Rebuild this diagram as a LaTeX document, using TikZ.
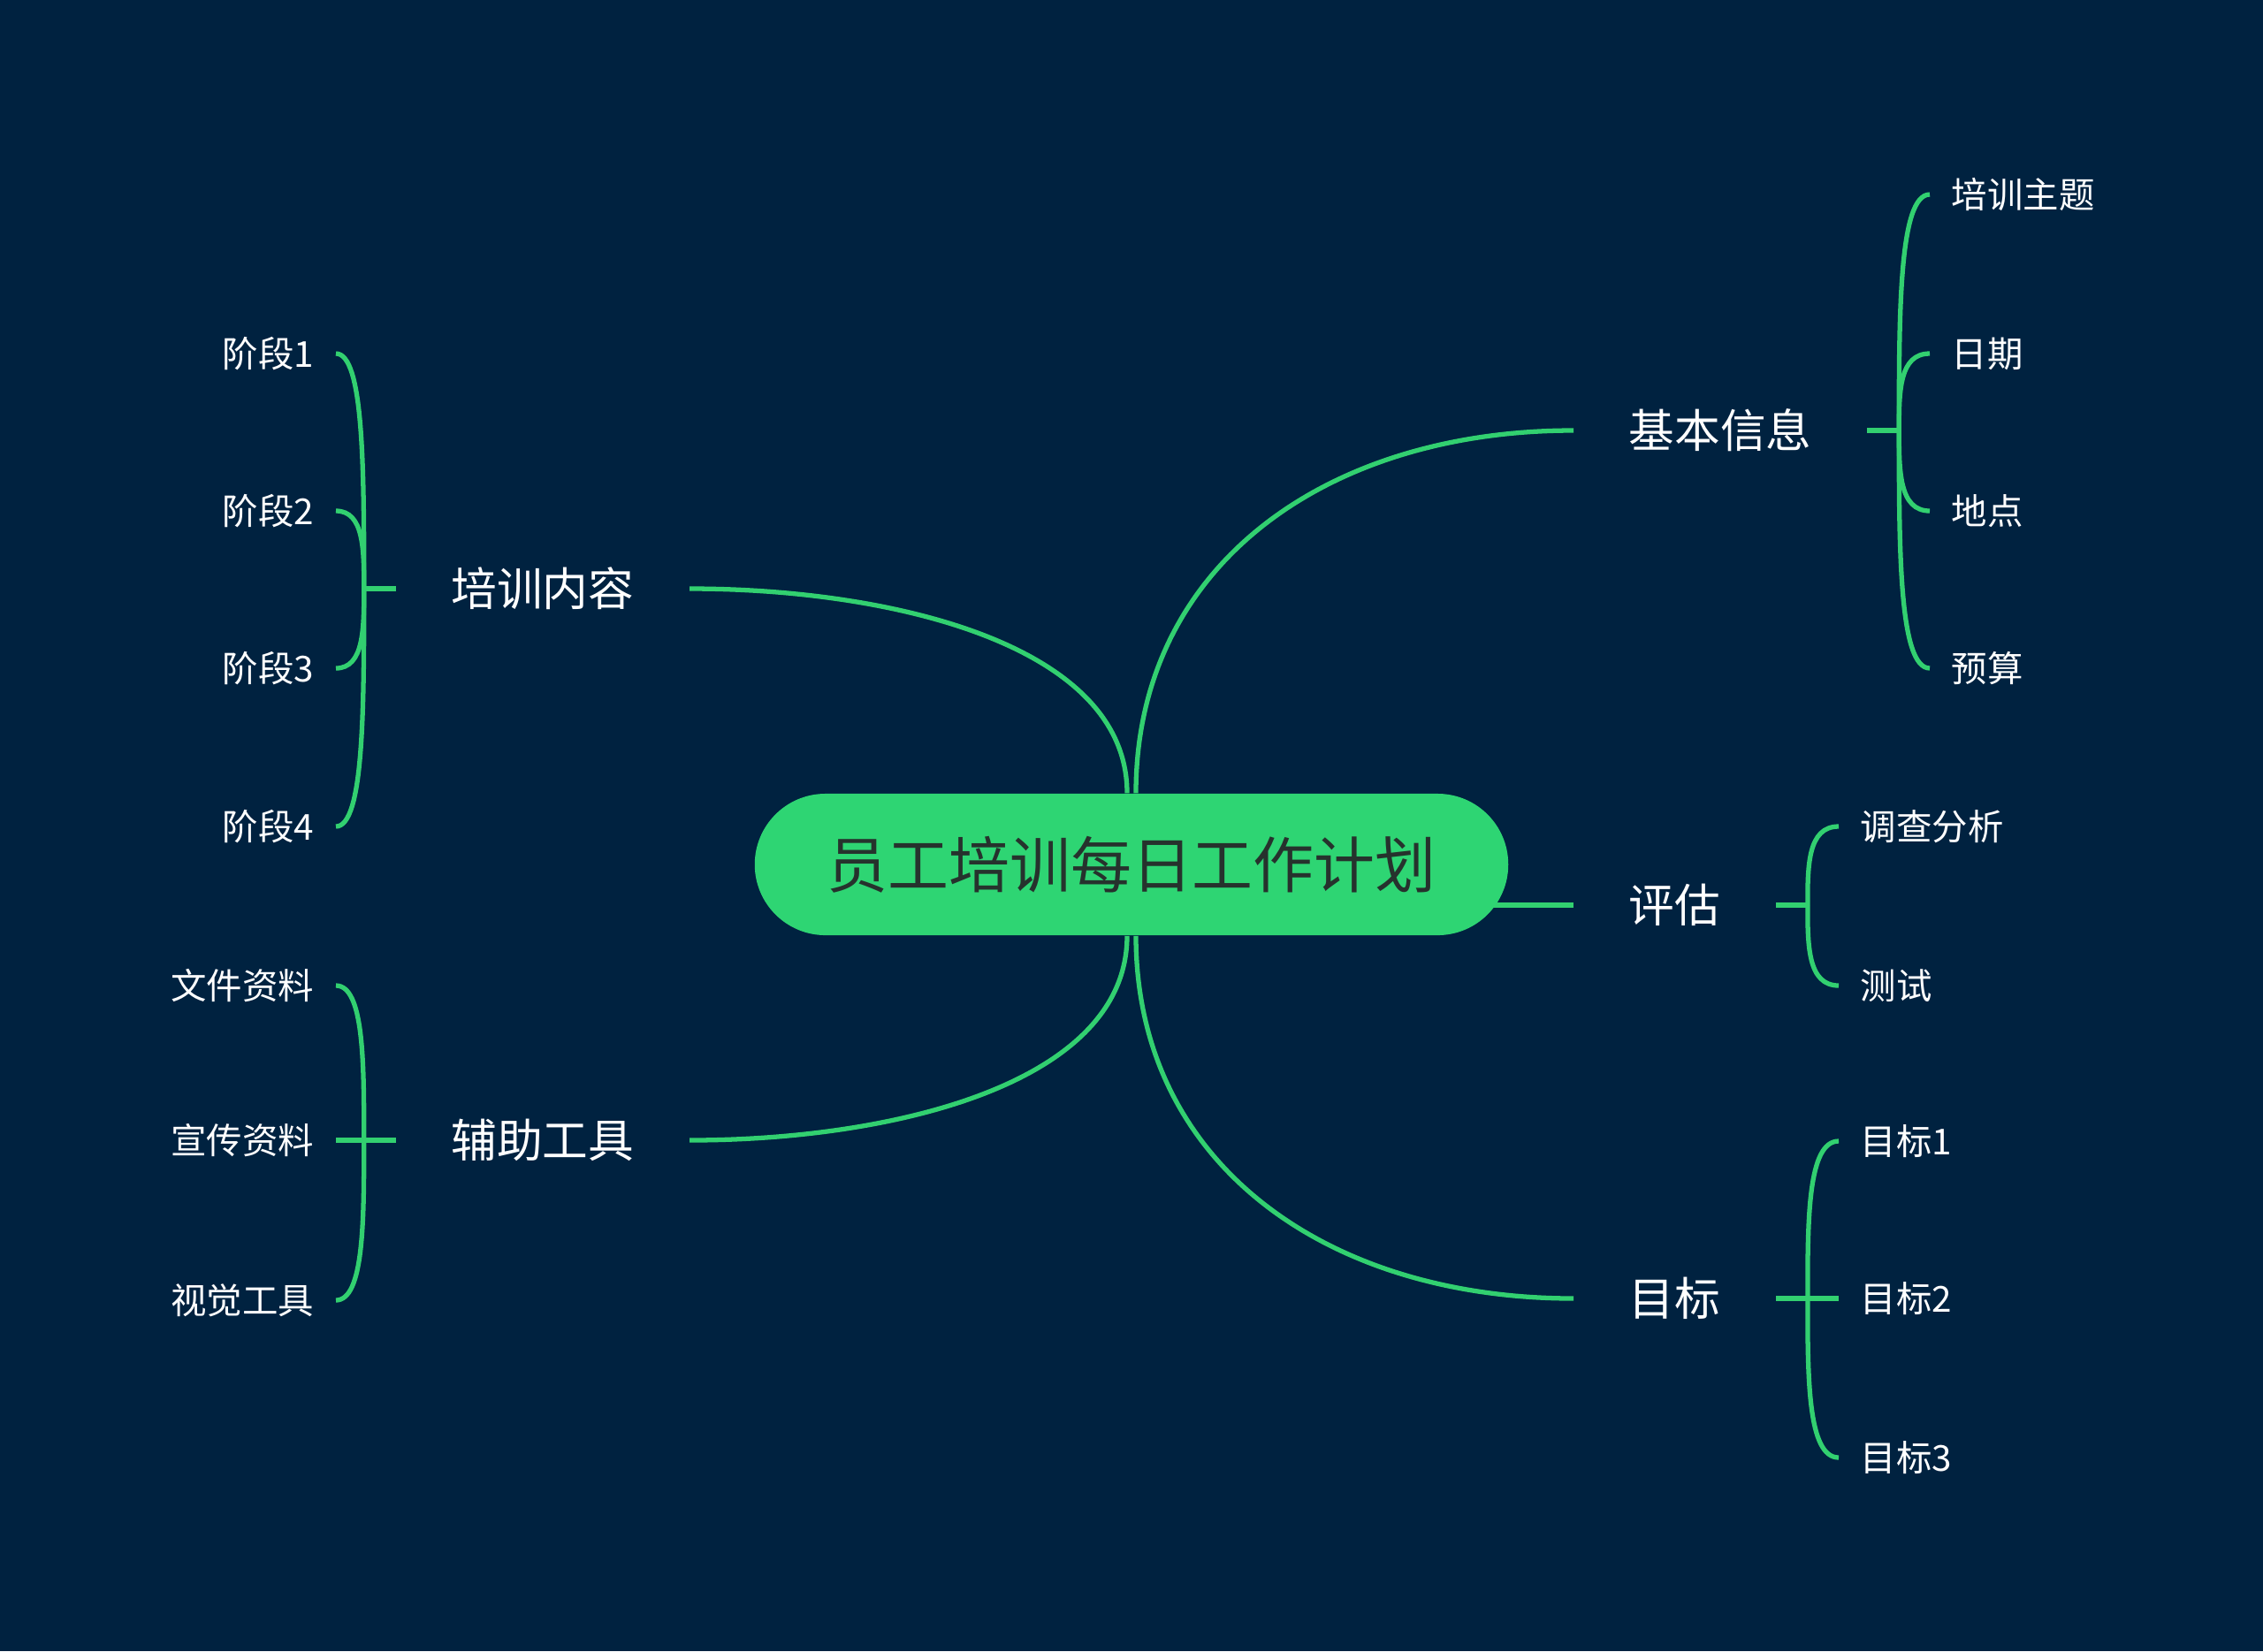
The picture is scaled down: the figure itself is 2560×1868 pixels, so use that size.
\documentclass[tikz,border=0pt]{standalone}
\usepackage{fontspec}
\setmainfont{Noto Sans CJK SC}
\usetikzlibrary{calc, positioning, shapes}
\definecolor{bgnavy}{RGB}{0,34,64}
\definecolor{leaf}{RGB}{46,213,115}
\definecolor{linegreen}{RGB}{50,208,112}
\definecolor{roottxt}{RGB}{38,50,45}
\pgfdeclarelayer{bg}
\pgfdeclarelayer{lines}
\pgfsetlayers{bg,lines,main}

\begin{document}
\begin{tikzpicture}[x=0.01cm, y=-0.01cm,
  root/.style={fill=leaf, rounded corners=0.8cm, minimum width=8.52cm, minimum height=1.6cm, text=roottxt, font=\fontsize{19.6}{24}\selectfont},
  topic/.style={text=white, inner xsep=0.62cm, inner ysep=2pt, font=\fontsize{14.7}{18}\selectfont},
  sub/.style={text=white, inner xsep=0.24cm, inner ysep=2pt, font=\fontsize{11.5}{14}\selectfont},
  branch/.style={draw=linegreen, line width=1.5pt}]
  \begin{pgfonlayer}{bg}
    \fill[bgnavy] (0,0) rectangle (2560,1868);
  \end{pgfonlayer}
  \useasboundingbox (0,0) rectangle (2560,1868);

  \node[root] (plan) at (1280,978) {员工培训每日工作计划};

  \node[topic, anchor=east] (content) at (780,666) {培训内容};
  \node[topic, anchor=east] (tools) at (780,1290) {辅助工具};
  \node[topic, anchor=west] (info) at (1780,487) {基本信息};
  \node[topic, anchor=west] (evalu) at (1780,1024) {评估};
  \node[topic, anchor=west] (goal) at (1780,1469) {目标};

  \coordinate (jc) at ($(content.west)+(-36,0)$);
  \coordinate (jt) at ($(tools.west)+(-36,0)$);
  \coordinate (ji) at ($(info.east)+(36,0)$);
  \coordinate (je) at ($(evalu.east)+(36,0)$);
  \coordinate (jg) at ($(goal.east)+(36,0)$);

  \node[sub, anchor=east] (c1) at (380,400) {阶段1};
  \node[sub, anchor=east] (c2) at (380,578) {阶段2};
  \node[sub, anchor=east] (c3) at (380,756) {阶段3};
  \node[sub, anchor=east] (c4) at (380,935) {阶段4};

  \node[sub, anchor=east] (t1) at (380,1115) {文件资料};
  \node[sub, anchor=east] (t2) at (380,1290) {宣传资料};
  \node[sub, anchor=east] (t3) at (380,1471) {视觉工具};

  \node[sub, anchor=west] (i1) at (2183,220) {培训主题};
  \node[sub, anchor=west] (i2) at (2183,400) {日期};
  \node[sub, anchor=west] (i3) at (2183,578) {地点};
  \node[sub, anchor=west] (i4) at (2183,756) {预算};

  \node[sub, anchor=west] (e1) at (2080,935) {调查分析};
  \node[sub, anchor=west] (e2) at (2080,1115) {测试};

  \node[sub, anchor=west] (g1) at (2080,1291) {目标1};
  \node[sub, anchor=west] (g2) at (2080,1469) {目标2};
  \node[sub, anchor=west] (g3) at (2080,1649) {目标3};

  \begin{pgfonlayer}{lines}
    % main branches
    \draw[branch] ($(plan.north)+(-5,0)$) .. controls (1275,730) and (1010,666) .. (content.east);
    \draw[branch] ($(plan.south)+(-5,0)$) .. controls (1275,1226) and (1010,1290) .. (tools.east);
    \draw[branch] ($(plan.north)+(5,0)$) .. controls (1285,640) and (1500,487) .. (info.west);
    \draw[branch] ($(plan.south)+(5,0)$) .. controls (1285,1316) and (1500,1469) .. (goal.west);
    \draw[branch] (plan.center |- evalu.west) -- (evalu.west);

    % stubs
    \draw[branch] (content.west) -- (jc);
    \draw[branch] (tools.west) -- (jt);
    \draw[branch] (info.east) -- (ji);
    \draw[branch] (evalu.east) -- (je);
    \draw[branch] (goal.east) -- (jg);

    % brackets
    \foreach \n in {c1,c2,c3,c4}
      \draw[branch] (\n.east) .. controls (\n.east -| jc) and ($(\n.east -| jc)!0.5!(jc)$) .. (jc);
    \foreach \n in {t1,t2,t3}
      \draw[branch] (\n.east) .. controls (\n.east -| jt) and ($(\n.east -| jt)!0.5!(jt)$) .. (jt);
    \foreach \n in {i1,i2,i3,i4}
      \draw[branch] (\n.west) .. controls (\n.west -| ji) and ($(\n.west -| ji)!0.5!(ji)$) .. (ji);
    \foreach \n in {e1,e2}
      \draw[branch] (\n.west) .. controls (\n.west -| je) and ($(\n.west -| je)!0.5!(je)$) .. (je);
    \foreach \n in {g1,g2,g3}
      \draw[branch] (\n.west) .. controls (\n.west -| jg) and ($(\n.west -| jg)!0.5!(jg)$) .. (jg);
  \end{pgfonlayer}
\end{tikzpicture}
\end{document}
